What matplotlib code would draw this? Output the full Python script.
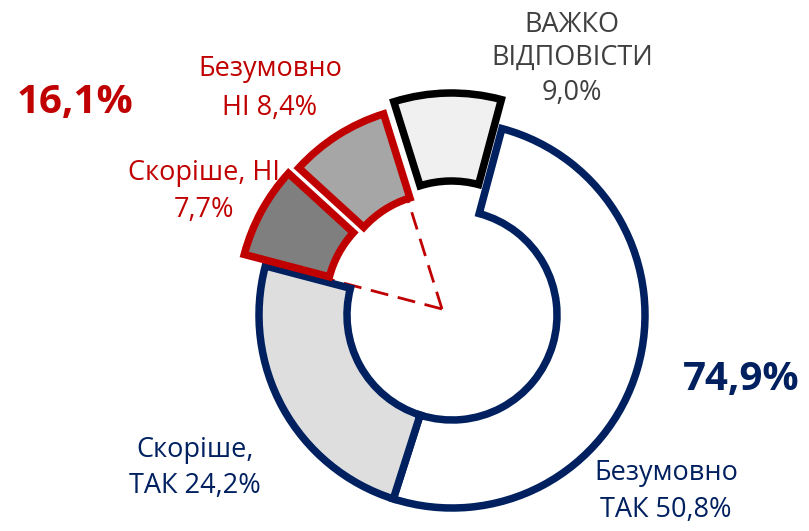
import matplotlib
matplotlib.use("Agg")
import matplotlib.pyplot as plt
from matplotlib.patches import Wedge
import numpy as np

# ---- data ----
categories = ["Безумовно ТАК", "Скоріше ТАК", "Скоріше НІ", "Безумовно НІ", "Важко відповісти"]
values = [50.8, 24.2, 7.7, 8.4, 9.0]
total_yes = "74,9%"
total_no = "16,1%"
label_lines = [
    ["Безумовно", "ТАК 50,8%"],
    ["Скоріше,", "ТАК 24,2%"],
    ["Скоріше, НІ", "7,7%"],
    ["Безумовно", "НІ 8,4%"],
    ["ВАЖКО", "ВІДПОВІСТИ", "9,0%"],
]

# ---- styles ----
fills = ["#ffffff", "#dedede", "#7f7f7f", "#a6a6a6", "#f0f0f0"]
edges = ["#002060", "#002060", "#c00000", "#c00000", "#000000"]
text_colors = ["#002060", "#002060", "#c00000", "#c00000", "#404040"]
explode_px = [0, 0, 24, 20, 29]

W, H = 809, 531
fig = plt.figure(figsize=(W / 100, H / 100), dpi=100)
ax = fig.add_axes([0, 0, 1, 1])
ax.set_xlim(0, W)
ax.set_ylim(0, H)
ax.set_aspect("equal")
ax.axis("off")

plt.rcParams["font.family"] = ["Open Sans", "DejaVu Sans"]


def P(x, y):
    return x, H - y


cx, cy = P(452, 315)
R_out, R_in = 193, 105
start = 15.0  # degrees clockwise from 12 o'clock

tot = sum(values)
angles = [v / tot * 360 for v in values]
cum = np.concatenate([[0], np.cumsum(angles)]) + start

for i in range(len(values)):
    a0, a1 = cum[i], cum[i + 1]
    mid = np.radians((a0 + a1) / 2)
    ox = cx + explode_px[i] * np.sin(mid)
    oy = cy + explode_px[i] * np.cos(mid)
    w = Wedge((ox, oy), R_out, 90 - a1, 90 - a0, width=R_out - R_in,
              facecolor=fills[i], edgecolor=edges[i], linewidth=5.4,
              joinstyle="miter", zorder=2 + (i >= 2))
    ax.add_patch(w)

# dashed guide lines for the "NO" group
apx, apy = P(442, 309)
for b in (cum[2], cum[4]):
    t = np.radians(b)
    L = 116
    ax.plot([apx, apx + L * np.sin(t)], [apy, apy + L * np.cos(t)],
            color="#c00000", lw=2.0, linestyle=(0, (6.5, 3.5)),
            solid_capstyle="butt", zorder=1)

# ---- labels ----
fs = 19.5
label_pos = [
    (666, [480, 517]),
    (195, [457, 493]),
    (204, [180, 217]),
    (270, [76, 115]),
    (572, [32, 65, 100]),
]
for i, (x, ys) in enumerate(label_pos):
    for line, y in zip(label_lines[i], ys):
        ax.text(*P(x, y), line, ha="center", va="baseline", fontsize=fs,
                color=text_colors[i])

ax.text(*P(75, 113), total_no, ha="center", va="baseline", fontsize=29,
        fontweight="bold", color="#c00000")
ax.text(*P(741, 390), total_yes, ha="center", va="baseline", fontsize=29,
        fontweight="bold", color="#002060")

fig.savefig("out.png", dpi=100)
